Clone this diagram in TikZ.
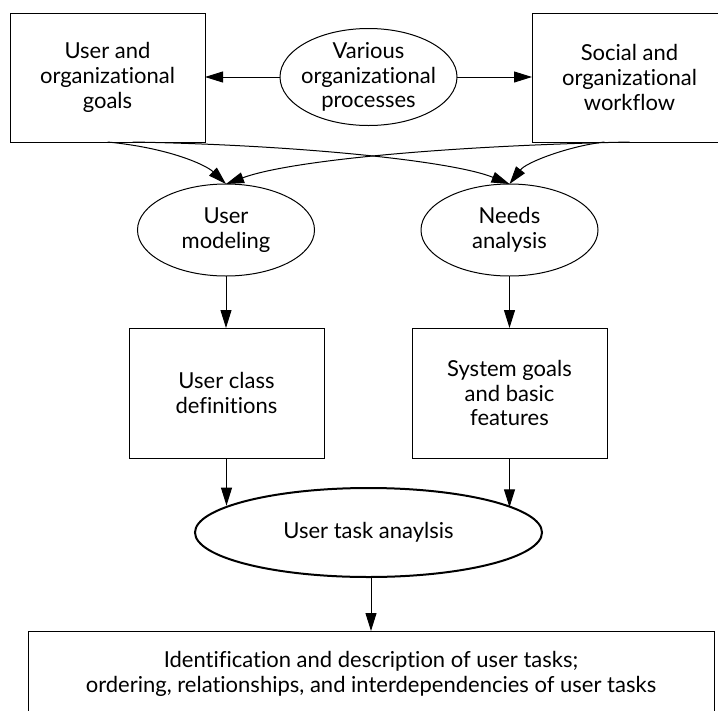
\documentclass[tikz,border=0pt]{standalone}
\usepackage{fontspec}
\setmainfont{Lato}[Ligatures=NoCommon]
\usetikzlibrary{arrows.meta,shapes.geometric,calc}
\begin{document}
\begin{tikzpicture}[x=1pt,y=-1pt,
  every node/.style={font=\fontsize{22}{24.6}\selectfont, align=center, inner sep=0pt, outer sep=0pt},
  box/.style={draw, line width=1pt, minimum width=195pt, minimum height=129pt},
  oval/.style={draw, ellipse, line width=1pt, minimum width=177pt, minimum height=94pt},
  arr/.style={line width=1pt, -{Triangle[length=18pt,width=11pt]}}]
\useasboundingbox (0,0) rectangle (718,710);
\clip (0,0) rectangle (718,710);
% top row
\node[box] (lg) at (107.5,77.5) {User and\\organizational\\goals};
\node[box] (rw) at (629.5,77.5) {Social and\\organizational\\workflow};
\node[oval, minimum height=97pt] (vp) at (368.5,77) {};
\node at (vp.center) {Various\\organizational\\processes};
% second row
\node[oval, minimum height=92pt] (um) at (226,230) {User\\modeling};
\node[oval, minimum height=92pt] (na) at (509.5,230) {Needs\\analysis};
% third row
\node[box, minimum height=130pt] (uc) at (226.5,393) {User class\\definitions};
\node[box, minimum height=130pt] (sg) at (509.5,393) {System goals\\and basic\\features};
% task analysis
\node[draw, ellipse, line width=2pt, minimum width=347pt, minimum height=89pt] (ta) at (368.5,532.5) {User task anaylsis};
% bottom
\node[box, minimum width=686pt, minimum height=86pt] (ut) at (371,674) {Identification and description of user tasks;\\ordering, relationships, and interdependencies of user tasks};
% connectors
\draw[arr] (vp.west) -- (vp.west -| lg.east);
\draw[arr] (vp.east) -- (vp.east -| rw.west);
\coordinate (lg2) at ($(lg.south)+(25,0)$);
\coordinate (rw2) at ($(rw.south)+(-25,0)$);
\draw[arr] (lg.south) .. controls +(62,6) and +(-20,-19) .. (um.north);
\draw[arr] (lg2) .. controls +(167,3) and +(-57,-23) .. (na.north);
\draw[arr] (rw.south) .. controls +(-190,4) and +(62,-23) .. (um.north);
\draw[arr] (rw2) .. controls +(-35,4) and +(17,-22) .. (na.north);
\draw[arr] (um.south) -- (um.south |- uc.north);
\draw[arr] (na.south) -- (na.south |- sg.north);
\draw[arr] (uc.south) -- (uc.south |- ta.169.8);
\draw[arr] (sg.south) -- (sg.south |- ta.10.2);
\draw[arr] (ut.north |- ta.south) -- (ut.north);
\end{tikzpicture}
\end{document}
